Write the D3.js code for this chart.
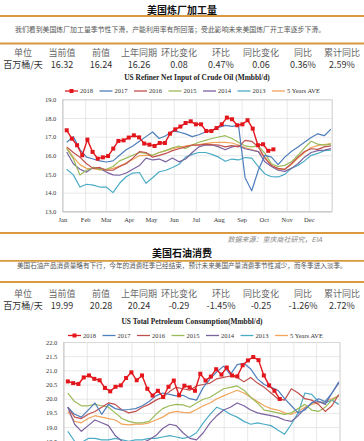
<!DOCTYPE html>
<html>
<head>
<meta charset="utf-8">
<script src="https://cdn.jsdelivr.net/npm/d3@7"></script>
<style>
  body { margin: 0; background: #fff; }
  svg { display: block; }
</style>
</head>
<body>
<svg id="page" width="364" height="441"></svg>
<script>
// ---- data ----
const months = ['Jan', 'Feb', 'Mar', 'Apr', 'May', 'Jun', 'Jul', 'Aug', 'Sep', 'Oct', 'Nov', 'Dec'];
const seriesNames = ['2018', '2017', '2016', '2015', '2014', '2013', '5 Years AVE'];
const tableHead = ['单位', '当前值', '前值', '上年同期', '环比变化', '环比', '同比变化', '同比', '累计同比'];
const refineryRow = ['百万桶/天', '16.32', '16.24', '16.26', '0.08', '0.47%', '0.06', '0.36%', '2.59%'];
const consumptionRow = ['百万桶/天', '19.99', '20.28', '20.24', '-0.29', '-1.45%', '-0.25', '-1.26%', '2.72%'];
const refineryTicks = [13, 14, 15, 16, 17, 18, 19];
const consumptionTicks = [18.5, 19, 19.5, 20, 20.5, 21, 21.5, 22];

// US refiner net input (weekly for 2018, spread over the year for the others)
const ref2018 = [17.34, 16.89, 16.54, 16.0, 16.84, 16.18, 15.82, 15.89, 15.96, 16.36, 16.77, 16.8, 16.95, 17.07, 16.96,
  16.63, 16.57, 16.5, 16.66, 16.66, 17.16, 17.39, 17.54, 17.73, 17.82, 17.66, 17.66, 17.3, 17.3, 17.46, 17.66,
  18.02, 17.93, 17.61, 17.66, 17.88, 17.43, 16.54, 16.59, 16.24, 16.32];
const ref2017 = [16.7, 17.0, 16.3, 15.9, 15.8, 15.7, 15.64, 15.7, 16.0, 16.3, 16.5, 16.75, 17.0, 17.25, 16.9, 17.05,
  17.3, 17.25, 17.15, 17.0, 17.1, 17.25, 17.35, 17.5, 17.6, 17.55, 17.6, 14.8, 14.1, 15.2, 16.0, 15.9, 15.5, 15.9,
  16.2, 16.45, 16.7, 16.95, 17.15, 17.05, 17.4];
const ref2016 = [16.45, 16.15, 15.9, 15.55, 15.3, 15.35, 15.2, 15.2, 15.4, 15.55, 15.85, 16.2, 16.15, 15.9, 16.0,
  16.1, 16.25, 16.35, 16.45, 16.55, 16.55, 16.6, 16.57, 16.55, 16.45, 16.52, 16.45, 16.8, 16.75, 16.45, 15.85,
  15.45, 15.3, 15.25, 15.55, 15.9, 16.2, 16.35, 16.32, 16.45, 16.5];
const ref2015 = [16.36, 15.82, 14.95, 15.2, 15.35, 15.25, 15.25, 15.4, 15.7, 15.85, 16.0, 16.15, 16.1, 16.0, 16.15,
  16.25, 16.4, 16.5, 16.36, 16.55, 16.7, 16.8, 16.9, 16.98, 17.05, 16.9, 16.7, 16.5, 16.45, 16.5, 16.1, 15.55,
  15.4, 15.46, 15.65, 16.0, 16.4, 16.75, 16.6, 16.55, 16.6];
const ref2014 = [16.18, 15.55, 15.25, 15.1, 15.35, 15.3, 15.1, 14.95, 14.93, 15.05, 15.25, 15.45, 15.85, 15.75, 15.8,
  15.65, 15.85, 15.65, 15.8, 16.15, 16.45, 16.55, 16.55, 16.45, 16.3, 16.45, 16.5, 16.35, 16.27, 16.2, 15.65,
  15.4, 15.2, 15.14, 15.3, 15.55, 15.9, 16.15, 16.25, 16.28, 16.36];
const ref2013 = [15.25, 14.95, 14.3, 14.45, 14.4, 14.3, 14.3, 14.0, 14.5, 14.85, 15.05, 15.08, 14.5, 14.8, 15.12,
  15.2, 15.35, 15.52, 15.9, 16.05, 16.15, 16.15, 16.05, 15.9, 15.68, 15.8, 15.75, 15.88, 15.85, 15.4, 15.0, 14.85,
  14.84, 14.98, 15.3, 15.45, 15.7, 16.0, 16.1, 16.25, 16.27];
const ref5yAvg = [16.4, 15.9, 15.5, 15.3, 15.28, 15.22, 15.22, 15.3, 15.42, 15.6, 15.78, 15.98, 16.0, 16.0, 16.15,
  16.25, 16.35, 16.42, 16.5, 16.54, 16.57, 16.63, 16.68, 16.7, 16.69, 16.66, 16.55, 16.4, 16.3, 16.2, 15.9, 15.45,
  15.25, 15.25, 15.5, 15.85, 16.15, 16.42, 16.52, 16.58, 16.63];

// US total petroleum consumption
const con2018 = [20.61, 20.55, 20.52, 20.75, 20.82, 20.7, 20.65, 20.38, 20.26, 20.42, 20.47, 20.73, 20.93, 20.65,
  20.82, 20.35, 20.11, 20.28, 20.06, 20.42, 20.64, 20.12, 20.46, 20.4, 20.28, 20.88, 20.64, 20.78, 21.04, 20.85,
  21.1, 20.82, 20.79, 21.18, 21.35, 21.47, 21.36, 20.82, 20.47, 20.28, 19.99];
const con2017 = [19.7, 19.45, 19.35, 19.6, 19.85, 19.45, 19.8, 19.65, 19.6, 19.62, 19.65, 19.75, 19.9, 20.1, 20.2,
  20.15, 20.1, 20.12, 20.0, 19.95, 20.4, 20.7, 20.95, 21.15, 20.85, 21.2, 21.25, 21.05, 20.7, 20.5, 20.4, 20.3,
  20.0, 19.75, 19.5, 19.6, 19.85, 20.0, 19.9, 20.2, 20.6];
const con2016 = [19.7, 19.35, 19.3, 19.45, 19.55, 19.7, 19.85, 19.8, 19.6, 19.5, 19.55, 19.7, 19.8, 19.95, 20.05,
  20.25, 20.4, 20.35, 20.3, 20.45, 20.5, 20.55, 20.7, 20.75, 20.8, 20.75, 20.6, 20.75, 20.55, 20.4, 20.2, 20.0,
  19.95, 20.35, 20.2, 20.0, 19.95, 19.8, 19.55, 19.75, 20.15];
const con2015 = [20.2, 19.9, 19.75, 19.75, 19.8, 19.75, 19.7, 19.5, 19.3, 19.2, 19.15, 19.15, 19.2, 19.45, 19.65,
  19.75, 19.8, 19.78, 19.7, 19.85, 19.98, 20.05, 20.2, 20.35, 20.4, 20.45, 20.3, 20.05, 19.85, 19.6, 19.55, 19.5,
  19.45, 19.5, 19.65, 19.8, 19.6, 19.55, 19.7, 19.95, 20.1];
const con2014 = [19.7, 19.1, 18.85, 19.05, 19.25, 19.15, 19.05, 18.7, 18.5, 18.45, 18.4, 18.45, 18.55, 18.7, 18.95,
  19.1, 19.05, 18.8, 18.6, 18.55, 18.8, 19.15, 19.4, 19.6, 19.7, 19.85, 19.75, 19.6, 19.5, 19.45, 19.4, 19.35,
  19.25, 19.2, 19.4, 19.65, 19.85, 19.9, 19.8, 20.2, 20.55];
const con2013 = [18.85, 18.5, 18.45, 18.6, 18.6, 18.55, 18.55, 18.6, 18.55, 18.5, 18.55, 18.55, 18.6, 18.6, 18.65,
  18.7, 18.65, 18.6, 18.65, 18.8, 19.15, 19.45, 19.7, 19.6, 19.45, 19.35, 19.2, 19.1, 19.15, 19.1, 19.05, 18.9,
  18.75, 19.1, 19.5, 20.2, 20.15, 19.9, 19.85, 19.95, 19.8];
const con5yAvg = [19.55, 19.2, 19.15, 19.3, 19.4, 19.35, 19.3, 19.25, 19.1, 19.08, 19.1, 19.1, 19.15, 19.25, 19.35,
  19.5, 19.55, 19.52, 19.5, 19.62, 19.75, 19.85, 20.0, 20.1, 20.2, 20.3, 20.2, 20.05, 19.9, 19.75, 19.65, 19.6,
  19.5, 19.45, 19.55, 19.7, 19.8, 19.85, 19.9, 20.0, 20.1];

// ---- styles ----
const colors = {
  '2018': '#e3161c', '2017': '#4f7fbd', '2016': '#c0504d', '2015': '#9bbb59',
  '2014': '#7a62a0', '2013': '#4bacc6', '5 Years AVE': '#f2a45a'
};
const rule = '#d99a3f';
const cjk = "'Noto Sans CJK SC', sans-serif";
const serif = "'Liberation Serif', 'DejaVu Serif', serif";
const colX = [23, 62, 101, 139, 179, 221, 261, 303, 342];

const svg = d3.select('#page');
const day = 864e5;
const yearStart = Date.UTC(2018, 0, 1);
const yearEnd = Date.UTC(2019, 0, 1);

// weekly dates for 2018, others spread from early Jan to year end
const weekly = (i) => new Date(yearStart + (6 + 7 * i) * day);
const spread = (n) => (i) => new Date(yearStart + (6 + i * 358 / (n - 1)) * day);

function hr(y) {
  svg.append('line').attr('x1', 0).attr('x2', 364).attr('y1', y).attr('y2', y)
    .attr('stroke', rule).attr('stroke-width', 1.8);
}

function header(o) {
  svg.append('text').attr('x', 182).attr('y', o.titleY).attr('text-anchor', 'middle')
    .attr('font-family', cjk).attr('font-size', 10).attr('font-weight', 'bold').attr('fill', '#111')
    .text(o.title);
  hr(o.rule1);
  svg.append('text').attr('x', o.noteX).attr('y', o.noteY)
    .attr('font-family', cjk).attr('font-size', o.noteSize).attr('fill', '#555')
    .text(o.note);
  hr(o.rule2);
  svg.append('g').selectAll('text').data(tableHead).join('text')
    .attr('x', (d, i) => colX[i]).attr('y', o.headY).attr('text-anchor', 'middle')
    .attr('font-family', cjk).attr('font-size', 9).attr('fill', '#666').text(d => d);
  svg.append('g').selectAll('text').data(o.row).join('text')
    .attr('x', (d, i) => colX[i]).attr('y', o.headY + 12).attr('text-anchor', 'middle')
    .attr('font-family', cjk).attr('font-size', 9).attr('fill', '#333').text(d => d);
}

function chart(o) {
  const g = svg.append('g');
  const x = d3.scaleUtc().domain([new Date(yearStart), new Date(yearEnd)]).range([o.left, o.right]);
  const y = d3.scaleLinear().domain(o.domain).range([o.bottom, o.top]);

  g.append('text').attr('x', o.titleX).attr('y', o.titleY).attr('text-anchor', 'middle')
    .attr('font-family', serif).attr('font-size', 7.4).attr('font-weight', 'bold').attr('fill', '#222')
    .text(o.title);

  const gy = g.append('g').attr('transform', `translate(${o.left},0)`)
    .call(d3.axisLeft(y).tickValues(o.ticks).tickSize(-(o.right - o.left)).tickPadding(6)
      .tickFormat(d3.format('.1f')));
  gy.select('.domain').attr('stroke', '#bfbfbf').attr('stroke-width', 0.8);
  gy.selectAll('.tick line').attr('stroke', '#dedede').attr('stroke-width', 0.7);
  gy.selectAll('.tick text').attr('font-family', serif).attr('font-size', 6.5).attr('fill', '#333');

  const monthStarts = d3.utcMonth.range(new Date(yearStart), new Date(yearEnd));
  const gx = g.append('g').attr('transform', `translate(0,${o.bottom})`)
    .call(d3.axisBottom(x).tickValues(monthStarts).tickSize(-(o.bottom - o.top)).tickPadding(6)
      .tickFormat((d) => o.showMonths ? months[d.getUTCMonth()] : ''));
  gx.select('.domain').attr('stroke', '#bfbfbf').attr('stroke-width', 0.8);
  gx.selectAll('.tick line').attr('stroke', '#dedede').attr('stroke-width', 0.7);
  gx.selectAll('.tick text').attr('font-family', serif).attr('font-size', 6.5).attr('fill', '#333');
  if (!o.showMonths) gx.selectAll('.tick text').remove();

  const line = d3.line().x(d => x(d[0])).y(d => y(d[1]));
  // draw back to front so 2018 ends up on top
  const order = seriesNames.slice().reverse();
  order.forEach(name => {
    const vals = o.series[name];
    const pos = name === '2018' ? weekly : spread(vals.length);
    const pts = vals.map((v, i) => [pos(i), v]);
    g.append('path').datum(pts).attr('d', line).attr('fill', 'none')
      .attr('stroke', colors[name]).attr('stroke-width', name === '2018' ? 1.4 : 1.2)
      .attr('stroke-linejoin', 'round');
    if (name === '2018') {
      g.append('g').selectAll('rect').data(pts).join('rect')
        .attr('x', d => x(d[0]) - 2).attr('y', d => y(d[1]) - 2)
        .attr('width', 4).attr('height', 4).attr('fill', colors[name]);
    }
  });

  const lg = g.append('g').selectAll('g').data(seriesNames).join('g')
    .attr('transform', (d, i) => `translate(${o.legendX + i * 34.5},${o.legendY})`);
  lg.append('line').attr('x1', 0).attr('x2', 13).attr('stroke', d => colors[d]).attr('stroke-width', 1.3);
  lg.filter(d => d === '2018').append('rect').attr('x', 4.5).attr('y', -2).attr('width', 4).attr('height', 4)
    .attr('fill', colors['2018']);
  lg.append('text').attr('x', 15).attr('dy', '0.33em').attr('font-family', serif).attr('font-size', 6.5)
    .attr('fill', '#333').text(d => d);
}

// ---- panel 1 ----
header({
  title: '美国炼厂加工量', titleY: 14, rule1: 16, rule2: 43.5, headY: 55.5, row: refineryRow,
  note: '我们看到美国炼厂加工量季节性下滑，产能利用率有所回落；受此影响未来美国炼厂开工率逐步下滑。',
  noteX: 15, noteY: 31.5, noteSize: 6.9
});
chart({
  title: 'US Refiner Net Input of Crude Oil (Mmbbl/d)', titleX: 197, titleY: 80,
  left: 62.3, right: 331.7, top: 99.3, bottom: 211.3, domain: [13, 19], ticks: refineryTicks,
  legendX: 65, legendY: 91, showMonths: true,
  series: {
    '2018': ref2018, '2017': ref2017, '2016': ref2016, '2015': ref2015,
    '2014': ref2014, '2013': ref2013, '5 Years AVE': ref5yAvg
  }
});
hr(233);
svg.append('text').attr('x', 322).attr('y', 241.5).attr('text-anchor', 'end')
  .attr('font-family', cjk).attr('font-size', 7).attr('font-style', 'italic').attr('fill', '#888')
  .text('数据来源：重庆商社研究，EIA');

// ---- panel 2 ----
header({
  title: '美国石油消费', titleY: 257, rule1: 260.8, rule2: 282, headY: 296.5, row: consumptionRow,
  note: '美国石油产品消费量略有下行，今年的消费旺季已经结束，预计未来美国产量消费季节性减少，而冬季进入淡季。',
  noteX: 17, noteY: 268, noteSize: 6.6
});
chart({
  title: 'US Total Petroleum Consumption(Mmbbl/d)', titleX: 192, titleY: 324,
  left: 63.3, right: 339.5, top: 342, bottom: 455.4, domain: [18, 22], ticks: consumptionTicks,
  legendX: 68, legendY: 335.5, showMonths: false,
  series: {
    '2018': con2018, '2017': con2017, '2016': con2016, '2015': con2015,
    '2014': con2014, '2013': con2013, '5 Years AVE': con5yAvg
  }
});
</script>
</body>
</html>
